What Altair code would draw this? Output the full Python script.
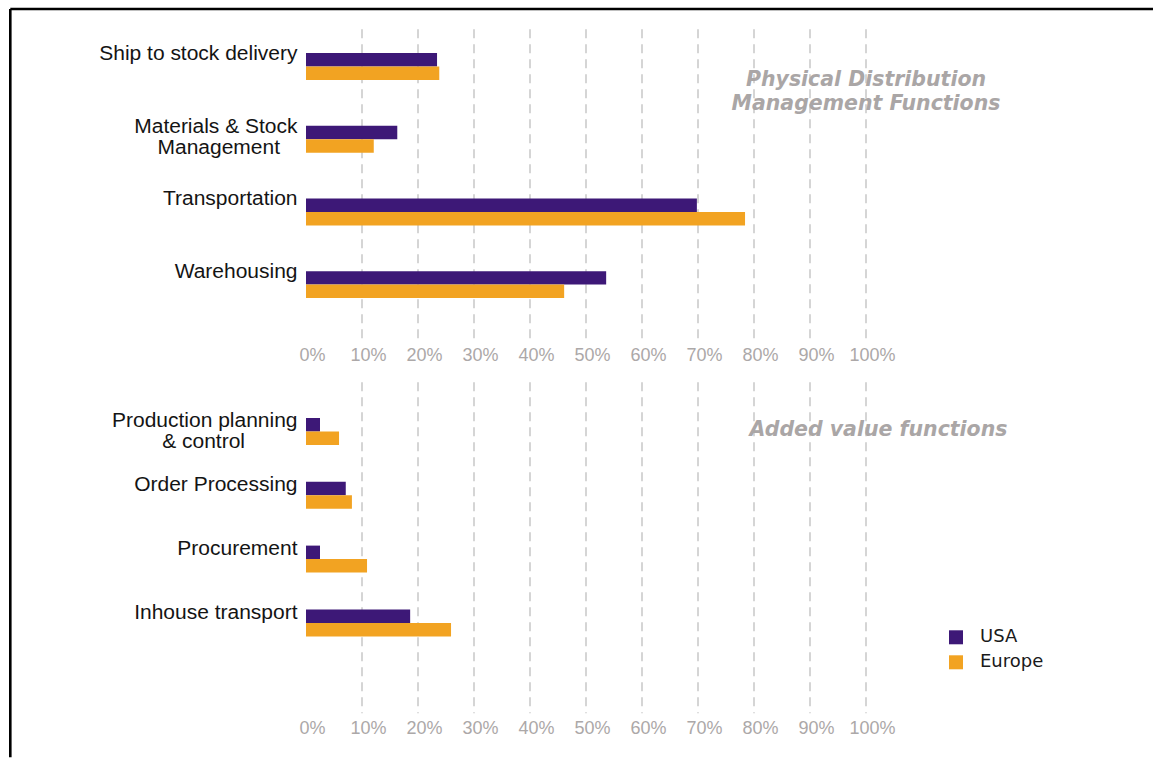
import altair as alt
import pandas as pd

# ---------------- data ----------------
series = ["USA", "Europe"]
series_colors = ["#3d1877", "#f2a322"]

top_categories = ["Ship to stock delivery", "Materials & Stock\nManagement", "Transportation", "Warehousing"]
top_usa = [23.4, 16.3, 69.8, 53.6]
top_europe = [23.8, 12.1, 78.4, 46.1]

bottom_categories = ["Production planning\n& control", "Order Processing", "Procurement", "Inhouse transport"]
bottom_usa = [2.5, 7.1, 2.5, 18.6]
bottom_europe = [5.9, 8.2, 10.9, 25.9]

tick_values = [0, 10, 20, 30, 40, 50, 60, 70, 80, 90, 100]
grid_values = [10, 20, 30, 40, 50, 60, 70, 80, 90, 100]

top_title = ["Physical Distribution", "Management Functions"]
bottom_title = "Added value functions"

PLOT_W = 560
TITLE_COLOR = "#aaa6a6"
GRID_COLOR = "#d5d5d5"

# approximate Liberation Sans (Arial) advance widths, used only to centre the
# lines of two-line category labels under a right-aligned axis
_NARROW = {"i": .222, "l": .222, "j": .222, "f": .278, "t": .278, "r": .333, " ": .278,
           "c": .5, "k": .5, "s": .5, "v": .5, "x": .5, "y": .5, "z": .5,
           "m": .833, "w": .722, "&": .667, "M": .833}


def _w(s):
    return sum(_NARROW.get(ch, .667 if ch.isupper() else .556) for ch in s)


def display_label(cat):
    lines = cat.split("\n")
    if len(lines) == 1:
        return cat
    widest = max(_w(l) for l in lines)
    out = []
    for l in lines:
        n = int(round((widest - _w(l)) / 2 / 0.278))
        out.append(l + "\u00a0" * n + ("\u200b" if n else ""))
    return "\n".join(out)


def long_df(categories, usa, europe):
    rows = []
    for c, u, e in zip(categories, usa, europe):
        rows.append({"category": display_label(c), "series": "USA", "value": u})
        rows.append({"category": display_label(c), "series": "Europe", "value": e})
    return pd.DataFrame(rows)


def x_axis():
    return alt.Axis(
        values=tick_values,
        labelExpr="datum.value + '%'",
        labelFont="Liberation Sans",
        labelFontSize=18,
        labelColor="#aca8a8",
        labelPadding=6.5,
        labelOffset=6,
        labelFlush=False,
        labelOverlap=False,
        domain=False,
        ticks=False,
        grid=False,
    )


def panel(categories, usa, europe, height, p_inner, p_outer, align, label_offset,
          title_text, title_x, title_y, legend, extra_layers):
    df = long_df(categories, usa, europe)
    xscale = alt.Scale(domain=[0, 100], nice=False, zero=True)
    grid = alt.Chart(pd.DataFrame({"value": grid_values})).mark_rule(
        color=GRID_COLOR, strokeWidth=2, strokeDash=[9, 6]
    ).encode(x=alt.X("value:Q", scale=xscale, title=None, axis=x_axis()))

    bars = alt.Chart(df).mark_bar().encode(
        x=alt.X("value:Q", scale=xscale, title=None, axis=x_axis()),
        y=alt.Y(
            "category:N",
            sort=[display_label(c) for c in categories],
            title=None,
            scale=alt.Scale(paddingInner=p_inner, paddingOuter=p_outer, align=align),
            axis=alt.Axis(
                labelExpr="split(datum.label, '\\n')",
                labelFont="Liberation Sans",
                labelFontSize=21,
                labelColor="#141414",
                labelPadding=9,
                labelOffset=label_offset,
                labelLineHeight=21,
                labelLimit=400,
                domain=False,
                ticks=False,
                grid=False,
            ),
        ),
        yOffset=alt.YOffset("series:N", sort=series,
                            scale=alt.Scale(paddingInner=0, paddingOuter=0)),
        color=alt.Color("series:N", sort=series,
                        scale=alt.Scale(domain=series, range=series_colors),
                        legend=legend),
    )

    title = alt.Chart(alt.Data(values=[{}])).mark_text(
        text=title_text,
        font="DejaVu Sans",
        fontSize=20.5,
        fontWeight="bold",
        fontStyle="italic",
        color=TITLE_COLOR,
        align="center",
        baseline="middle",
        lineHeight=24.7,
    ).encode(x=alt.value(title_x), y=alt.value(title_y))

    return alt.layer(grid, bars, title, *extra_layers).properties(width=PLOT_W, height=height)


# decorative frame (top and left edges of the figure)
frame_top = alt.Chart(alt.Data(values=[{}])).mark_rule(
    color="black", strokeWidth=2.6, clip=False
).encode(x=alt.value(-295.7), x2=alt.value(847), y=alt.value(-20.3))
frame_left = alt.Chart(alt.Data(values=[{}])).mark_rule(
    color="black", strokeWidth=2.6, clip=False
).encode(x=alt.value(-295.7), y=alt.value(-20.3), y2=alt.value(728))

top = panel(top_categories, top_usa, top_europe, 311, 0.629, 0.4535, 0.36, -12.5,
            top_title, 560, 50.3, None, [frame_top, frame_left])

bottom_legend = alt.Legend(
    orient="none", legendX=641, legendY=246, title=None,
    symbolType="square", symbolSize=196, symbolStrokeWidth=0,
    labelFont="DejaVu Sans", labelFontSize=18, labelColor="#1a1a1a",
    labelOffset=15, rowPadding=7, padding=0,
)
bottom = panel(bottom_categories, bottom_usa, bottom_europe, 331, 0.635, 0.9115, 0.307, -8.5,
               bottom_title, 572.5, 48, bottom_legend, [])

chart = alt.vconcat(top, bottom, spacing=42, bounds="flush").resolve_legend(
    color="independent"
).configure(
    padding={"left": 9, "top": 7.3, "right": 0, "bottom": 0},
    background="white",
).configure_view(stroke=None)

chart.save("out.html", embed_options={"renderer": "svg", "actions": False})
